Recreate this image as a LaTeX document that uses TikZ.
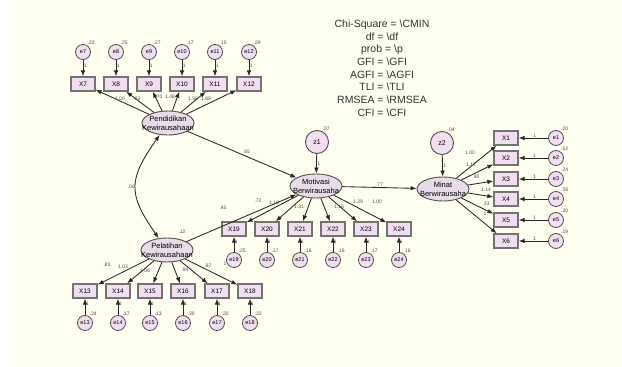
\documentclass[tikz,border=0pt]{standalone}
\usepackage{fontspec}
\setmainfont{Liberation Sans}
\usetikzlibrary{shapes, arrows.meta, positioning}
\definecolor{bgcream}{HTML}{FEFFEE}
\definecolor{obsfill}{HTML}{F2DEF0}
\definecolor{latfill}{HTML}{E8DCE8}
\definecolor{edgegray}{HTML}{505050}
\tikzstyle{latent} = [ellipse, draw=edgegray, fill=latfill, line width=0.9pt, minimum width=52pt, minimum height=24pt, inner xsep=-10pt, inner ysep=-3pt, align=center, font=\fontsize{7.5}{9}\selectfont]
\tikzstyle{obs} = [rectangle, draw=edgegray!80, fill=obsfill, line width=1.3pt, minimum width=24pt, minimum height=14pt, inner sep=0pt, font=\fontsize{6.5}{7}\selectfont]
\tikzstyle{err} = [circle, draw=edgegray, fill=obsfill, line width=0.8pt, minimum size=15pt, inner sep=0pt, font=\fontsize{5.5}{6}\selectfont]
\tikzstyle{dist} = [circle, draw=edgegray, fill=obsfill, line width=0.9pt, minimum size=23pt, inner sep=0pt, font=\fontsize{7}{8}\selectfont]
\tikzstyle{reg} = [->, >={Latex[length=6pt, width=4.5pt]}, line width=0.85pt, draw=black!85]
\tikzstyle{cov} = [<->, >={Latex[length=6pt, width=4.5pt]}, line width=0.85pt, draw=black!85]
\tikzstyle{lbl} = [font=\fontsize{5}{5}\selectfont, text=black!70, inner sep=0.5pt]
\tikzstyle{stats} = [align=center, font=\fontsize{10.5}{12.7}\selectfont, text=black!80]

\begin{document}
\begin{tikzpicture}[x=1pt, y=-1pt]
  \useasboundingbox (0,0) rectangle (622,367);
  \fill[bgcream] (10,0) rectangle (622,367);

  % fit statistics
  \node[stats] (fit) at (382,68) {Chi-Square = \textbackslash CMIN\\df = \textbackslash df\\prob = \textbackslash p\\GFI = \textbackslash GFI\\AGFI = \textbackslash AGFI\\TLI = \textbackslash TLI\\RMSEA = \textbackslash RMSEA\\CFI = \textbackslash CFI};

  % latent variables
  \node[latent] (PK) at (168,123) {Pendidikan\\Kewirausahaan};
  \node[latent] (PL) at (167,250) {Pelatihan\\Kewirausahaan};
  \node[latent] (MB) at (316,186) {Motivasi\\Berwirausaha};
  \node[latent] (MN) at (443,189) {Minat\\Berwirausaha};
  \node[lbl] (vPL) at (182,232) {.12};

  % disturbances
  \node[dist, label={[lbl]65:.07}] (z1) at (317,142) {z1};
  \node[dist, label={[lbl]65:.04}] (z2) at (442,143) {z2};

  % indicators of Pendidikan Kewirausahaan
  \node[obs] (X7) at (83,84) {X7};
  \node[obs] (X8) at (116,84) {X8};
  \node[obs] (X9) at (149,84) {X9};
  \node[obs] (X10) at (182,84) {X10};
  \node[obs] (X11) at (215,84) {X11};
  \node[obs] (X12) at (249,84) {X12};
  \node[err, label={[lbl]60:.22}] (e7) at (83,52) {e7};
  \node[err, label={[lbl]60:.25}] (e8) at (116,52) {e8};
  \node[err, label={[lbl]60:.27}] (e9) at (149,52) {e9};
  \node[err, label={[lbl]60:.17}] (e10) at (182,52) {e10};
  \node[err, label={[lbl]60:.15}] (e11) at (215,52) {e11};
  \node[err, label={[lbl]60:.29}] (e12) at (249,52) {e12};

  % indicators of Pelatihan Kewirausahaan
  \node[obs] (X13) at (85,291) {X13};
  \node[obs] (X14) at (118,291) {X14};
  \node[obs] (X15) at (150,291) {X15};
  \node[obs] (X16) at (183,291) {X16};
  \node[obs] (X17) at (217,291) {X17};
  \node[obs] (X18) at (250,291) {X18};
  \node[err, label={[lbl]60:.24}] (e13) at (85,323) {e13};
  \node[err, label={[lbl]60:.17}] (e14) at (118,323) {e14};
  \node[err, label={[lbl]60:.13}] (e15) at (150,323) {e15};
  \node[err, label={[lbl]60:.30}] (e16) at (183,323) {e16};
  \node[err, label={[lbl]60:.20}] (e17) at (217,323) {e17};
  \node[err, label={[lbl]60:.22}] (e18) at (250,323) {e18};

  % indicators of Motivasi Berwirausaha
  \node[obs] (X19) at (234,229) {X19};
  \node[obs] (X20) at (267,229) {X20};
  \node[obs] (X21) at (300,229) {X21};
  \node[obs] (X22) at (333,229) {X22};
  \node[obs] (X23) at (366,229) {X23};
  \node[obs] (X24) at (399,229) {X24};
  \node[err, label={[lbl]60:.25}] (e19) at (234,260) {e19};
  \node[err, label={[lbl]60:.17}] (e20) at (267,260) {e20};
  \node[err, label={[lbl]60:.16}] (e21) at (300,260) {e21};
  \node[err, label={[lbl]60:.16}] (e22) at (333,260) {e22};
  \node[err, label={[lbl]60:.17}] (e23) at (366,260) {e23};
  \node[err, label={[lbl]60:.16}] (e24) at (399,260) {e24};

  % indicators of Minat Berwirausaha
  \node[obs] (X1) at (506,138) {X1};
  \node[obs] (X2) at (506,158) {X2};
  \node[obs] (X3) at (506,179) {X3};
  \node[obs] (X4) at (506,199) {X4};
  \node[obs] (X5) at (506,220) {X5};
  \node[obs] (X6) at (506,241) {X6};
  \node[err, label={[lbl]55:.20}] (e1) at (556,138) {e1};
  \node[err, label={[lbl]55:.52}] (e2) at (556,158) {e2};
  \node[err, label={[lbl]55:.24}] (e3) at (556,179) {e3};
  \node[err, label={[lbl]55:.28}] (e4) at (556,199) {e4};
  \node[err, label={[lbl]55:.20}] (e5) at (556,220) {e5};
  \node[err, label={[lbl]55:.19}] (e6) at (556,241) {e6};

  % error terms
  \draw[reg] (e7) -- node[lbl, pos=.35, right] {1} (X7);
  \draw[reg] (e8) -- node[lbl, pos=.35, right] {1} (X8);
  \draw[reg] (e9) -- node[lbl, pos=.35, right] {1} (X9);
  \draw[reg] (e10) -- node[lbl, pos=.35, right] {1} (X10);
  \draw[reg] (e11) -- node[lbl, pos=.35, right] {1} (X11);
  \draw[reg] (e12) -- node[lbl, pos=.35, right] {1} (X12);
  \draw[reg] (e13) -- node[lbl, pos=.7, right] {1} (X13);
  \draw[reg] (e14) -- node[lbl, pos=.7, right] {1} (X14);
  \draw[reg] (e15) -- node[lbl, pos=.7, right] {1} (X15);
  \draw[reg] (e16) -- node[lbl, pos=.7, right] {1} (X16);
  \draw[reg] (e17) -- node[lbl, pos=.7, right] {1} (X17);
  \draw[reg] (e18) -- node[lbl, pos=.7, right] {1} (X18);
  \draw[reg] (e19) -- node[lbl, pos=.7, right] {1} (X19);
  \draw[reg] (e20) -- node[lbl, pos=.7, right] {1} (X20);
  \draw[reg] (e21) -- node[lbl, pos=.7, right] {1} (X21);
  \draw[reg] (e22) -- node[lbl, pos=.7, right] {1} (X22);
  \draw[reg] (e23) -- node[lbl, pos=.7, right] {1} (X23);
  \draw[reg] (e24) -- node[lbl, pos=.7, right] {1} (X24);
  \draw[reg] (e1) -- node[lbl, pos=.45, above] {1} (X1);
  \draw[reg] (e2) -- node[lbl, pos=.45, above] {1} (X2);
  \draw[reg] (e3) -- node[lbl, pos=.45, above] {1} (X3);
  \draw[reg] (e4) -- node[lbl, pos=.45, above] {1} (X4);
  \draw[reg] (e5) -- node[lbl, pos=.45, above] {1} (X5);
  \draw[reg] (e6) -- node[lbl, pos=.45, above] {1} (X6);
  \draw[reg] (z1) -- node[lbl, right] {1} (MB);
  \draw[reg] (z2) -- node[lbl, right] {1} (MN);

  % loadings
  \draw[reg] (PK) -- (X7) node[lbl] at (120,99) {1.00};
  \draw[reg] (PK) -- (X8) node[lbl] at (137,99) {.83};
  \draw[reg] (PK) -- (X9) node[lbl] at (159,97) {.70};
  \draw[reg] (PK) -- (X10) node[lbl] at (170,97) {1.48};
  \draw[reg] (PK) -- (X11) node[lbl] at (193,99) {1.58};
  \draw[reg] (PK) -- (X12) node[lbl] at (206,99) {1.69};
  \draw[reg] (PL) -- (X13) node[lbl] at (107,265) {.83};
  \draw[reg] (PL) -- (X14) node[lbl] at (123,267) {1.03};
  \draw[reg] (PL) -- (X15) node[lbl] at (145,271) {1.06};
  \draw[reg] (PL) -- (X16) node[lbl] at (185,270) {.94};
  \draw[reg] (PL) -- (X17) node[lbl] at (208,266) {.87};
  \draw[reg] (PL) -- (X18) node[lbl] at (225,264) {1};
  \draw[reg] (MB) -- (X19) node[lbl] at (258,201) {.72};
  \draw[reg] (MB) -- (X20) node[lbl] at (274,203) {1.18};
  \draw[reg] (MB) -- (X21) node[lbl] at (299,207) {1.31};
  \draw[reg] (MB) -- (X22) node[lbl] at (339,207) {1.16};
  \draw[reg] (MB) -- (X23) node[lbl] at (358,202) {1.29};
  \draw[reg] (MB) -- (X24) node[lbl] at (377,202) {1.00};
  \draw[reg] (MN) -- (X1) node[lbl] at (470,153) {1.00};
  \draw[reg] (MN) -- (X2) node[lbl] at (471,165) {1.17};
  \draw[reg] (MN) -- (X3) node[lbl] at (476,177) {.90};
  \draw[reg] (MN) -- (X4) node[lbl] at (486,190) {1.14};
  \draw[reg] (MN) -- (X5) node[lbl] at (486,204) {.33};
  \draw[reg] (MN) -- (X6) node[lbl] at (485,214) {1};

  % structural paths
  \draw[reg] (PK) -- node[lbl, pos=.5, above right] {.65} (MB);
  \draw[reg] (PL) -- (MB) node[lbl] at (223,208) {.45};
  \draw[reg] (MB) -- node[lbl, above] {.77} (MN);
  \draw[cov] (PK) to[out=235, in=125, looseness=1.35] node[lbl, left] {.06} (PL);
\end{tikzpicture}
\end{document}
